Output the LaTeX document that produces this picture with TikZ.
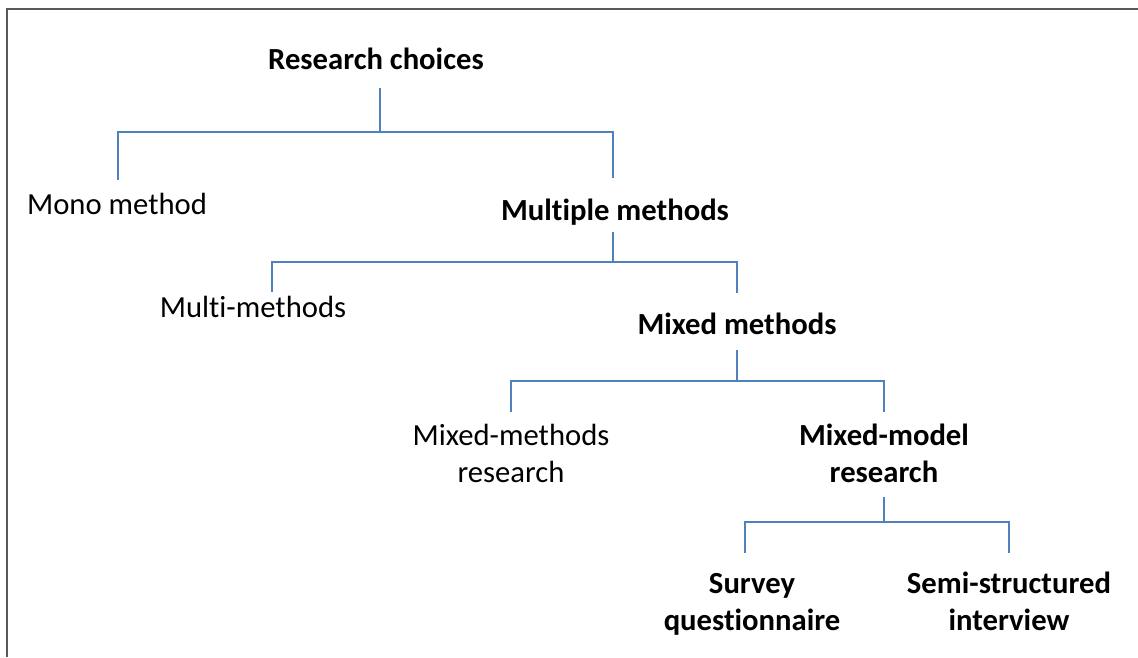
\documentclass[tikz,border=0pt]{standalone}
\usepackage{fontspec}
\setmainfont{Carlito}[Ligatures={NoCommon}]
\usetikzlibrary{calc}
\definecolor{linkblue}{HTML}{4F81BD}
\definecolor{framegray}{HTML}{5A5A5A}
\begin{document}
\begin{tikzpicture}[x=0.75pt,y=-0.75pt,
  lbl/.style={anchor=base,inner sep=0pt,align=center,font=\fontsize{23}{27.75}\selectfont},
  hd/.style={lbl,font=\fontsize{23}{27.75}\selectfont\bfseries},
  link/.style={draw=linkblue,line width=1.5pt}]
\useasboundingbox (0,0) rectangle (1138,657);
\fill[white] (0,0) rectangle (1138,657);
% frame along the top and left edges
\draw[framegray,line width=1.2pt] (7,657) -- (7,9) -- (1138,9);

% labels (two-line labels are placed by the baseline of their last line)
\node[hd]  (rc)   at (376,69)  {Research choices};
\node[lbl] (mono) at (117,214) {Mono method};
\node[hd]  (mm)   at (615,220) {Multiple methods};
\node[lbl] (multi) at (253,317) {Multi-methods};
\node[hd]  (mix)  at (737,334) {Mixed methods};
\node[lbl] (mmr)  at (511,482) {Mixed-methods\\research};
\node[hd]  (mmod) at (884,482) {Mixed-model\\research};
\node[hd]  (sq)   at (752,630) {Survey\\questionnaire};
\node[hd]  (ssi)  at (1009,630) {Semi-structured\\interview};

% level 1
\draw[link] ($(rc.base)+(4,19)$) -- ($(rc.base)+(4,63)$) coordinate (j1);
\draw[link] (j1) -| ($(mono.base)+(1,-34)$);
\draw[link] (j1) -| ($(mm.base)+(-2,-42)$);
% level 2
\draw[link] ($(mm.base)+(-2,12)$) -- ++(0,30) coordinate (j2);
\draw[link] (j2) -| ($(multi.base)+(19,-25)$);
\draw[link] (j2) -| ($(mix.base)+(0,-41)$);
% level 3
\draw[link] ($(mix.base)+(0,16)$) -- ++(0,31) coordinate (j3);
\draw[link] (j3) -| ($(mmr.base)+(0,-70)$);
\draw[link] (j3) -| ($(mmod.base)+(0,-70)$);
% level 4
\draw[link] ($(mmod.base)+(0,15)$) -- ++(0,25) coordinate (j4);
\draw[link] (j4) -| ($(sq.base)+(-7,-77)$);
\draw[link] (j4) -| ($(ssi.base)+(0,-77)$);
\end{tikzpicture}
\end{document}
